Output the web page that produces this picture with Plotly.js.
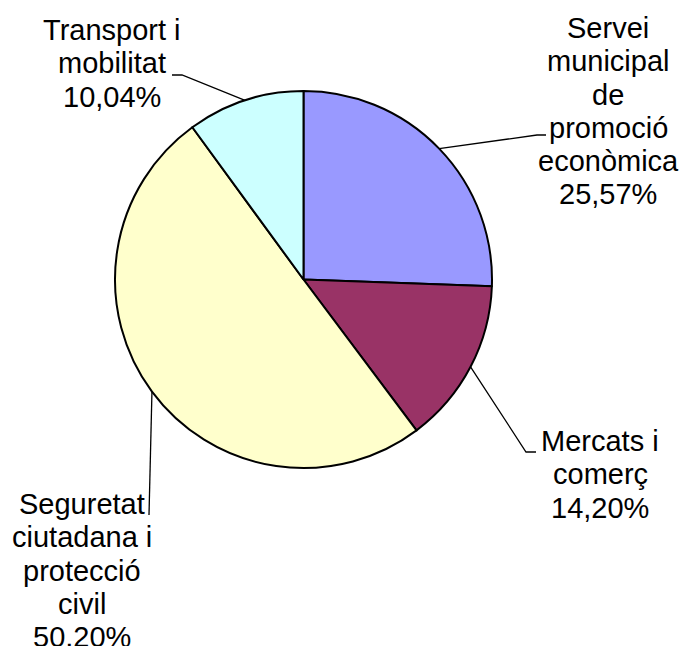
<!DOCTYPE html>
<html>
<head>
<meta charset="utf-8">
<script src="https://cdn.plot.ly/plotly-3.0.1.min.js"></script>
<style>html,body{margin:0;padding:0;background:#fff;}#chart{width:684px;height:646px;}</style>
</head>
<body>
<div id="chart"></div>
<script>
// ---- data ----
const categories = ['Servei municipal de promoció econòmica', 'Mercats i comerç', 'Seguretat ciutadana i protecció civil', 'Transport i mobilitat'];
const values = [25.57, 14.20, 50.20, 10.04];
const labelLines = [
  ['Servei', 'municipal', 'de', 'promoció', 'econòmica'],
  ['Mercats i', 'comerç'],
  ['Seguretat', 'ciutadana i', 'protecció', 'civil'],
  ['Transport i', 'mobilitat']
];
const colors = ['#9999FF', '#993366', '#FFFFCC', '#CCFFFF'];

// ---- layout / styling ----
const W = 684, H = 646;
const pieBox = {x0: 115, x1: 492, y0: 91, y1: 468}; // px
const labelCenter = [[608, 28], [600, 441], [82, 504], [112, 30]]; // px, first line
const linePitch = 33.3;
const elbows = [
  [[537, 135], [546, 135]],
  [[526, 452], [536, 452]],
  [[149, 515]],
  [[182, 75], [172, 75]]
];
const fontSize = 29;

const px = x => x / W;
const py = y => 1 - y / H;

const cx = (pieBox.x0 + pieBox.x1) / 2, cy = (pieBox.y0 + pieBox.y1) / 2;
const R = Math.min(pieBox.x1 - pieBox.x0, pieBox.y1 - pieBox.y0) / 2;

const total = values.reduce((a, b) => a + b, 0);
const fmt = v => v.toFixed(2).replace('.', ',') + '%';

const annotations = [];
const shapes = [];
let cum = 0;
values.forEach((v, i) => {
  const mid = (cum + v / 2) / total * 2 * Math.PI;
  cum += v;
  const ex = cx + R * Math.sin(mid), ey = cy - R * Math.cos(mid);
  const lines = labelLines[i].concat([fmt(v)]);
  lines.forEach((t, k) => {
    annotations.push({
      xref: 'paper', yref: 'paper', x: px(labelCenter[i][0]), y: py(labelCenter[i][1] + k * linePitch),
      xanchor: 'center', yanchor: 'middle', showarrow: false, text: t,
      font: {family: 'Liberation Sans, Arial, sans-serif', size: fontSize, color: '#000'}
    });
  });
  let path = 'M' + px(ex) + ',' + py(ey);
  elbows[i].forEach(p => { path += ' L' + px(p[0]) + ',' + py(p[1]); });
  shapes.push({type: 'path', xref: 'paper', yref: 'paper', path: path, line: {color: '#000', width: 1.3}});
});

const trace = {
  type: 'pie',
  labels: categories,
  values: values,
  sort: false,
  direction: 'clockwise',
  rotation: 0,
  textinfo: 'none',
  hoverinfo: 'none',
  marker: {colors: colors, line: {color: '#000', width: 2}},
  domain: {x: [px(pieBox.x0), px(pieBox.x1)], y: [py(pieBox.y1), py(pieBox.y0)]}
};

const layout = {
  width: W, height: H,
  margin: {l: 0, r: 0, t: 0, b: 0},
  showlegend: false,
  paper_bgcolor: '#fff',
  annotations: annotations,
  shapes: shapes
};

Plotly.newPlot('chart', [trace], layout, {staticPlot: true});
</script>
</body>
</html>
